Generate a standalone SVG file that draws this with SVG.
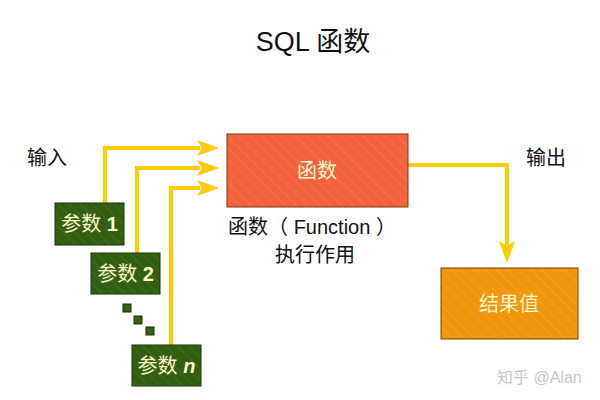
<svg xmlns="http://www.w3.org/2000/svg" width="600" height="400" viewBox="0 0 600 400">
<defs>
<style>
.t{font-family:"Liberation Sans","Noto Sans CJK SC",sans-serif;fill:#111}
.bt{font-family:"Liberation Sans","Noto Sans CJK SC",sans-serif;fill:#FFF6CC;font-size:20px}
.conn{fill:none;stroke:#FFCC00;stroke-width:4}
.head{fill:#FFCC00}
.g{fill:url(#pg);stroke:#1B3306;stroke-width:1}
</style>
<pattern id="pg" width="8" height="8" patternUnits="userSpaceOnUse" patternTransform="rotate(-45)">
<rect width="8" height="8" fill="#325E12"/><line x1="0" y1="0" x2="0" y2="8" stroke="#4A7A28" stroke-width="1"/>
</pattern>
<pattern id="pr" width="8" height="8" patternUnits="userSpaceOnUse" patternTransform="rotate(-45)">
<rect width="8" height="8" fill="#F2623C"/><line x1="0" y1="0" x2="0" y2="8" stroke="#F7825E" stroke-width="1"/>
</pattern>
<pattern id="po" width="8" height="8" patternUnits="userSpaceOnUse" patternTransform="rotate(-45)">
<rect width="8" height="8" fill="#F1950C"/><line x1="0" y1="0" x2="0" y2="8" stroke="#F7AE3A" stroke-width="1"/>
</pattern>
</defs>
<rect width="600" height="400" fill="#fff"/>
<text class="t" x="313" y="51" font-size="27" text-anchor="middle">SQL 函数</text>
<text class="t" x="27" y="165" font-size="20">输入</text>
<text class="t" x="526" y="165" font-size="20">输出</text>
<g id="connectors">
<path class="conn" d="M105,203 V148 H200"/>
<path class="head" d="M197,140 L219,148 L197,156 L202,148 Z"/>
<path class="conn" d="M137,253 V168 H200"/>
<path class="head" d="M197,160 L219,168 L197,176 L202,168 Z"/>
<path class="conn" d="M171,345 V188 H200"/>
<path class="head" d="M197,180 L219,188 L197,196 L202,188 Z"/>
<path class="conn" d="M408,165 H507 V245"/>
<path class="head" d="M499,241 L507,263 L515,241 L507,246 Z"/>
</g>
<g id="p1"><rect class="g" x="55" y="203" width="69" height="42"/><text class="bt" x="89.5" y="231" text-anchor="middle">参数 <tspan font-weight="bold">1</tspan></text></g>
<g id="p2"><rect class="g" x="91" y="253" width="69" height="41"/><text class="bt" x="125.5" y="281" text-anchor="middle">参数 <tspan font-weight="bold">2</tspan></text></g>
<g id="dots"><rect class="g" x="123" y="304" width="8" height="8"/><rect class="g" x="134" y="316" width="8" height="8"/><rect class="g" x="146" y="327" width="8" height="8"/></g>
<g id="pn"><rect class="g" x="132" y="345" width="69" height="41"/><text class="bt" x="166.5" y="373" text-anchor="middle">参数 <tspan font-weight="bold" font-style="italic">n</tspan></text></g>
<g id="func"><rect x="227" y="134" width="181" height="73" fill="url(#pr)" stroke="#7A3418" stroke-width="1"/><text class="bt" x="317" y="178" text-anchor="middle">函数</text></g>
<text class="t" x="312" y="234" font-size="20" text-anchor="middle">函数（ Function ）</text>
<text class="t" x="315" y="262" font-size="20" text-anchor="middle">执行作用</text>
<g id="result"><rect x="441" y="268" width="137" height="71" fill="url(#po)" stroke="#6E4200" stroke-width="1"/><text class="bt" x="509" y="311" text-anchor="middle">结果值</text></g>
<text x="497" y="383" font-family="Liberation Sans,Noto Sans CJK SC,sans-serif" font-size="16" fill="#C8C8C8">知乎 @Alan</text>
</svg>
